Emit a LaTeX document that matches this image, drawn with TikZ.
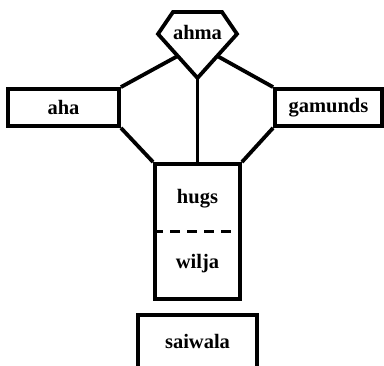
\documentclass[tikz,border=0pt]{standalone}
\usepackage{fontspec}
\setmainfont{Liberation Serif}
\usetikzlibrary{positioning,calc}
\tikzset{
	part/.style = {shape=rectangle, draw=black, line width=3.8pt, inner sep=0pt, text centered, font=\fontsize{20.5}{20.5}\selectfont\bfseries},
	parttext/.style = {inner sep=0pt, font=\fontsize{20.5}{20.5}\selectfont\bfseries},
	edge/.style = {line width=3.8pt}
}
\begin{document}
\begin{tikzpicture}[x=1pt, y=-1pt,
	line join=miter,
	split_style/.style={
	    draw=black,
	    line width=2.8pt,
	    dash pattern=on 10pt off 7pt
	    }
	]
	\useasboundingbox (0,0) rectangle (384,366);
	    % all the nodes
		\node[part, minimum width=111pt, minimum height=37pt](aha) at (63.5,107.5) {aha};
		\node[part, minimum width=107pt, minimum height=37pt](gamunds) at (328.5,107.5) {gamunds};
		\node[part, minimum width=85pt, minimum height=135pt](hugs) at (197.5,231.5) {};
		\node[part, minimum width=119pt, minimum height=53pt](saiwala) at (197.5,341.5) {saiwala};
		\node[parttext](hugstext) at (197.5,199) {hugs};
		\node[parttext](wilja) at (197.5,264) {wilja};
		
		% the top shape
		\coordinate (tl) at (173,12);
		\coordinate (tr) at (222,12);
		\coordinate (l) at (158,34);
		\coordinate (r) at (237,34);
		\coordinate (b) at (197.5,78);
		\draw[edge] (tl) -- (tr) -- (r) -- (b) -- (l) -- cycle;
		\node[parttext](ahma) at (197.5,32) {ahma};
		\coordinate (al) at ($(l)!0.5!(b)$);
		\coordinate (ar) at ($(r)!0.5!(b)$);
		
		\draw[edge] (al) -- (aha.north east);
		\draw[edge] (ar) -- (gamunds.north west);
		\draw[edge] (b) -- (hugs.north);
		\draw[edge] (aha.south east) -- (hugs.north west);
		\draw[edge] (gamunds.south west) -- (hugs.north east);
		\draw[split_style] (hugs.west) -- (hugs.east);
\end{tikzpicture}
\end{document}
